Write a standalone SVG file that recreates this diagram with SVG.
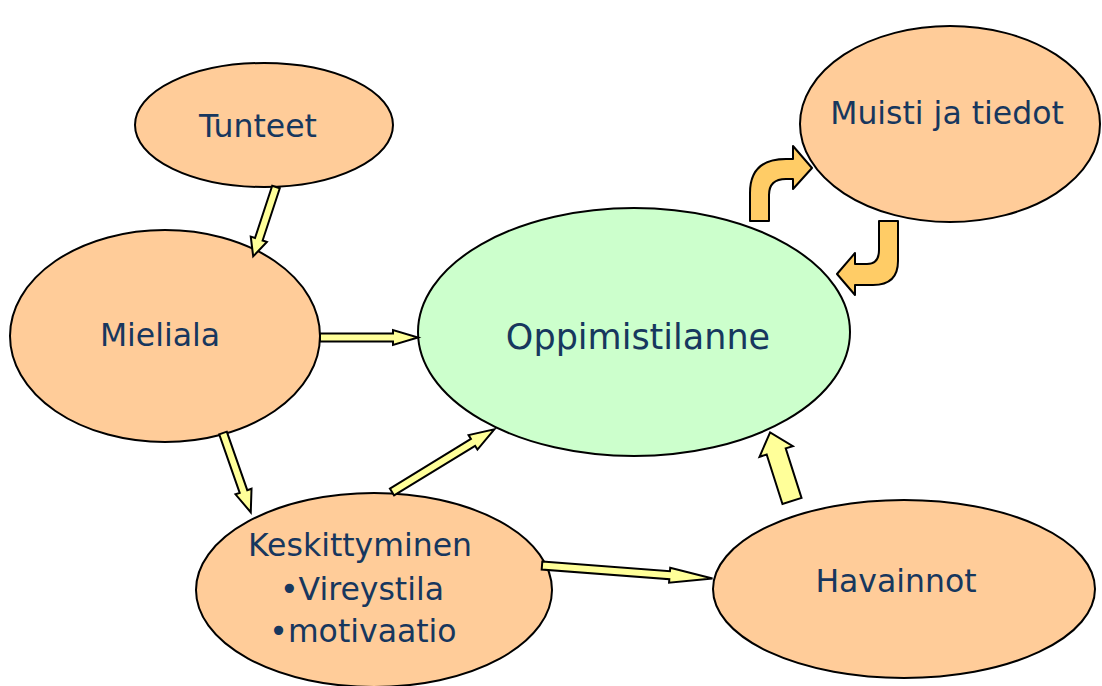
<svg xmlns="http://www.w3.org/2000/svg" width="1102" height="686" viewBox="0 0 1102 686">
<style>
.n{fill:#ffcc99;stroke:#000;stroke-width:2}
.c{fill:#ccffcc;stroke:#000;stroke-width:2}
.t{font-family:"DejaVu Sans",Verdana,sans-serif;font-size:31.5px;fill:#17375e;text-anchor:middle}
.a{fill:#ffff99;stroke:#000;stroke-width:2;stroke-linejoin:miter}
.b{fill:#ffcc66;stroke:#000;stroke-width:2;stroke-linejoin:round}
</style>
<rect width="1102" height="686" fill="#fff"/>
<g id="tunteet"><ellipse class="n" cx="264" cy="125" rx="129" ry="62"/><text class="t" x="258" y="137">Tunteet</text></g>
<g id="muisti"><ellipse class="n" cx="950" cy="124" rx="150" ry="98"/><text class="t" x="947" y="124">Muisti ja tiedot</text></g>
<g id="mieliala"><ellipse class="n" cx="165" cy="336" rx="155" ry="106"/><text class="t" x="160" y="346">Mieliala</text></g>
<g id="oppimistilanne"><ellipse class="c" cx="634" cy="332" rx="216" ry="124"/><text class="t" x="638" y="349" style="font-size:35px">Oppimistilanne</text></g>
<g id="keskittyminen"><ellipse class="n" cx="374" cy="590" rx="178" ry="97"/><text class="t" x="360" y="556">Keskittyminen</text><text class="t" x="362" y="600">•Vireystila</text><text class="t" x="363" y="642">•motivaatio</text></g>
<g id="havainnot"><ellipse class="n" cx="904" cy="589" rx="191" ry="89"/><text class="t" x="896" y="592">Havainnot</text></g>
<g id="connectors">
<polygon class="a" transform="translate(276,187) rotate(108.2)" points="0,-4 55,-4 55,-8.5 73,0 55,8.5 55,4 0,4"/>
<polygon class="a" transform="translate(320,337.5) rotate(0)" points="0,-4 73,-4 73,-7.5 98,0 73,7.5 73,4 0,4"/>
<polygon class="a" transform="translate(223,433) rotate(70.7)" points="0,-4 62,-4 62,-8.5 84,0 62,8.5 62,4 0,4"/>
<polygon class="a" transform="translate(392,492) rotate(-31.5)" points="0,-4 95,-4 95,-8.5 120,0 95,8.5 95,4 0,4"/>
<polygon class="a" transform="translate(542,565.5) rotate(4.35)" points="0,-4 128,-4 128,-7.5 171,0 128,7.5 128,4 0,4"/>
<polygon class="a" transform="translate(792,501) rotate(-107.7)" points="0,-10 52,-10 52,-17.5 72,0 52,17.5 52,10 0,10"/>
<path class="b" d="M750,221 L750,193 Q750,159 786,159 L793,159 L793,146 L812,168 L793,189 L793,179 L786,179 Q769,179 769,195 L769,221 Z"/>
<path class="b" d="M879,221 L898,221 L898,261 Q898,285 873,285 L855,285 L855,295 L837,274 L855,253 L855,264 L867,264 Q879,264 879,250 Z"/>
</g>
</svg>
